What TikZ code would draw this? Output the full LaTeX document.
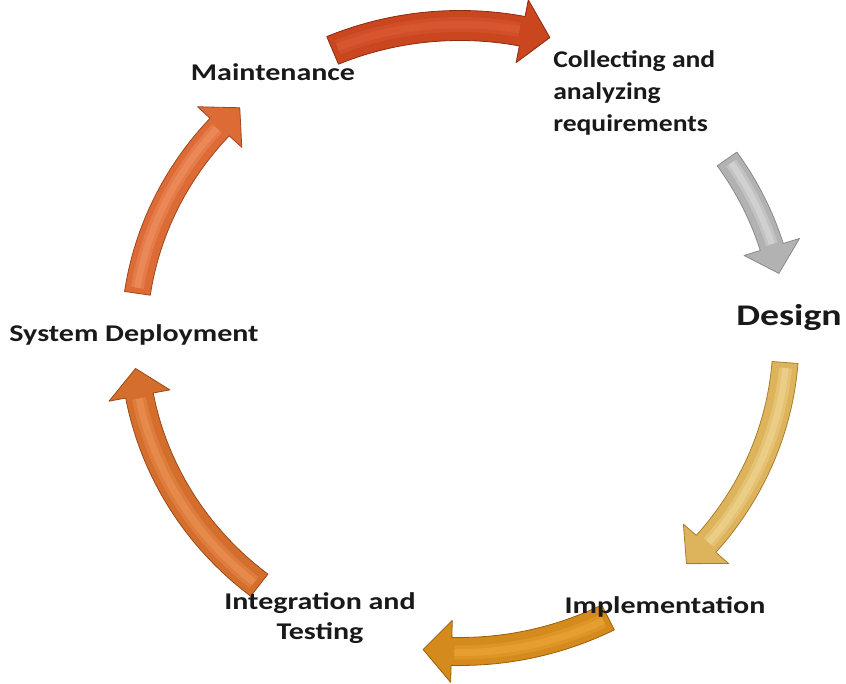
\documentclass[tikz,border=0pt]{standalone}
\usepackage{fontspec}
\setmainfont{Carlito}
\newfontfamily\labfont{Carlito}[FakeStretch=1.25]
\newfontfamily\labfontb{Carlito}[FakeStretch=1.15]
\newfontfamily\labfontd{Carlito}[FakeStretch=1.26]
\definecolor{aTop}{HTML}{C9461F}\definecolor{aTopH}{HTML}{E0603A}\definecolor{aTopE}{HTML}{8E2A10}
\definecolor{aGray}{HTML}{B2B2B2}\definecolor{aGrayH}{HTML}{E2E2E2}\definecolor{aGrayE}{HTML}{8A8A8A}
\definecolor{aGold}{HTML}{DDB35C}\definecolor{aGoldH}{HTML}{F4DD9E}\definecolor{aGoldE}{HTML}{A87E2E}
\definecolor{aBot}{HTML}{D48A1C}\definecolor{aBotH}{HTML}{EFAA3A}\definecolor{aBotE}{HTML}{98600E}
\definecolor{aLB}{HTML}{D46E2C}\definecolor{aLBH}{HTML}{F09A5E}\definecolor{aLBE}{HTML}{9A4A18}
\definecolor{aUL}{HTML}{DC6B35}\definecolor{aULH}{HTML}{F39A6C}\definecolor{aULE}{HTML}{A04520}
\newcommand\cyclearrow[6]{%
  \pgfmathsetmacro\CAc{#2+5}%
  \pgfmathsetmacro\CAro{326+#3}\pgfmathsetmacro\CArO{313+#3}%
  \pgfmathsetmacro\CAri{326-#3}\pgfmathsetmacro\CArI{313-#3}%
  \pgfmathsetmacro\CAho{326+#3+17}\pgfmathsetmacro\CAhO{313+#3+17}%
  \pgfmathsetmacro\CAhi{326-#3-17}\pgfmathsetmacro\CAhI{313-#3-17}%
  \pgfmathsetmacro\CAlw{#3*0.75*1.0}%
  \pgfmathsetmacro\CAlx{#3*0.75*0.5}%
  \filldraw[fill=#4, draw=#6, line width=0.6pt, line join=round]
    (#1:{\CAro} and {\CArO}) arc[start angle=#1, end angle=\CAc, x radius=\CAro, y radius=\CArO]
    -- (\CAc:{\CAho} and {\CAhO}) -- (#2:{326} and {313}) -- (\CAc:{\CAhi} and {\CAhI})
    -- (\CAc:{\CAri} and {\CArI}) arc[start angle=\CAc, end angle=#1, x radius=\CAri, y radius=\CArI]
    -- cycle;
  \draw[#5, line width=\CAlw pt, opacity=0.35]
    (#1-1:{327} and {314}) arc[start angle=#1-1, end angle=\CAc+0.5, x radius=327, y radius=314];
  \draw[#5, line width=\CAlx pt, opacity=0.45]
    (#1-1:{327} and {314}) arc[start angle=#1-1, end angle=\CAc+0.5, x radius=327, y radius=314];
}
\begin{document}
\begin{tikzpicture}[x=0.75pt,y=0.75pt,
  lab/.style={font=\labfont\bfseries\fontsize{18}{22.5}\selectfont, inner sep=0pt, text=black!90}]
\useasboundingbox (0,0) rectangle (846,684);
\begin{scope}[shift={(460,345.5)}]
  \cyclearrow{113}{74}{15}{aTop}{aTopH}{aTopE}
  \cyclearrow{35}{12}{12}{aGray}{aGrayH}{aGrayE}
  \cyclearrow{-4.4}{-46}{13}{aGold}{aGoldH}{aGoldE}
  \cyclearrow{-63}{-96.5}{14}{aBot}{aBotH}{aBotE}
  \cyclearrow{-128}{-174.5}{14}{aLB}{aLBH}{aLBE}
  \cyclearrow{171.7}{132.5}{13}{aUL}{aULH}{aULE}
\end{scope}
\node[lab] (maint) at (273,612) {Maintenance};
\node[lab, font=\labfontb\bfseries\fontsize{18}{24}\selectfont, align=left, anchor=west] (collect) at (553,591) {Collecting and\\analyzing\\requirements};
\node[lab, font=\labfontd\bfseries\fontsize{22.5}{26}\selectfont] (design) at (789,366) {Design};
\node[lab] (impl) at (665,77) {Implementation};
\node[lab, align=center] (integ) at (320,66) {Integration and\\Testing};
\node[lab] (deploy) at (134,349) {System Deployment};
\end{tikzpicture}
\end{document}
